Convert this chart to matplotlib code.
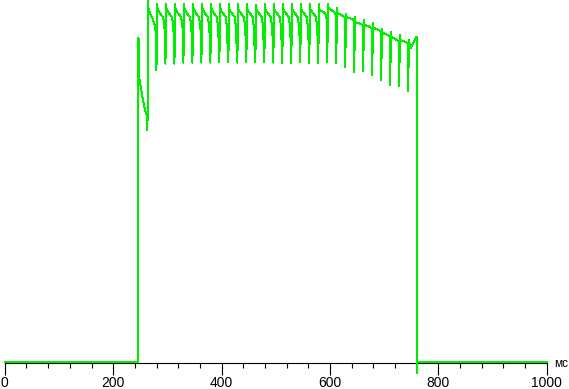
import matplotlib
matplotlib.use("Agg")
import matplotlib.pyplot as plt
from matplotlib.ticker import MultipleLocator

# initial step before the pulses start (ms, %)
start_t = [0, 246.7, 246.7, 247.4, 247.8, 251.3, 253.2, 255.0, 256.9, 258.7, 261.8]
start_v = [0, 0, 90.0, 85.3, 79.2, 76.1, 74.2, 72.8, 71.4, 70.0, 68.6]

# one entry per sawtooth (time of the downward spike)
spike_t = [263.3, 279.9, 296.5, 313.1, 329.7, 346.3, 362.9, 379.5, 396.1, 412.7,
           429.3, 445.9, 462.5, 479.1, 495.7, 512.3, 528.9, 545.5, 562.1, 578.7,
           595.3, 611.9, 628.5, 645.1, 661.7, 678.3, 694.9, 711.5, 728.1, 744.7]
trough = [64.4, 81.1, 82.8, 82.8, 83.1, 83.1, 83.1, 83.1, 83.3, 83.3,
          83.1, 83.3, 83.3, 83.3, 83.1, 83.1, 83.1, 83.3, 83.1, 83.1,
          83.3, 83.1, 81.9, 80.6, 80.8, 79.7, 78.3, 76.9, 76.7, 75.3]
peak = [100.2, 99.4, 99.4, 99.4, 99.4, 99.4, 99.4, 99.4, 99.4, 99.4,
        99.4, 99.4, 99.2, 99.4, 99.4, 99.4, 99.4, 99.4, 99.4, 99.4,
        99.4, 98.3, 96.7, 95.8, 95.0, 94.2, 92.5, 91.7, 90.8, 89.4]
shoulder = [97.8, 97.8, 97.8, 97.8, 97.8, 97.8, 97.8, 97.8, 97.8, 97.8,
            97.8, 97.8, 97.8, 97.8, 97.8, 97.8, 97.8, 97.8, 97.8, 97.8,
            98.3, 96.9, 95.8, 94.4, 93.6, 92.8, 91.4, 90.3, 89.4, 88.3]
knee = [94.2, 95.6, 95.6, 95.8, 95.6, 95.6, 95.6, 95.6, 95.6, 95.6,
        95.6, 95.6, 95.6, 95.6, 95.6, 95.6, 95.6, 95.6, 95.8, 96.9,
        97.2, 96.1, 95.3, 93.9, 93.1, 92.2, 90.8, 89.4, 88.9]
pre = [91.4, 91.9, 90.8, 92.2, 90.8, 91.4, 90.3, 88.6, 86.7, 86.7,
       89.4, 86.1, 88.1, 89.4, 88.1, 88.9, 89.4, 88.1, 89.4, 95.0,
       96.4, 95.6, 95.0, 93.3, 92.5, 91.7, 90.3, 88.9, 88.3]
tooth_dt = [0.0, 0.6, 2.2, 12.5, 15.5]

# last partial tooth and switch-off
end_t = [749.0, 759.4, 760.1, 760.1, 760.5, 760.9, 1000]
end_v = [87.2, 90.3, 90.3, 25.6, -3.1, 0, 0]

t = list(start_t)
v = list(start_v)
for i in range(len(spike_t)):
    vals = [trough[i], peak[i], shoulder[i]]
    if i < len(knee):
        vals += [knee[i], pre[i]]
    for dt, val in zip(tooth_dt, vals):
        t.append(spike_t[i] + dt)
        v.append(val)
t += end_t
v += end_v

fig = plt.figure(figsize=(5.69, 3.89), dpi=100)
ax = fig.add_axes([4.8 / 569, 26 / 389, 541.9 / 569, 363 / 389])
ax.plot(t, v, color='#00ee00', lw=0.72, antialiased=False, clip_on=False, zorder=3)

ax.set_xlim(0, 1000)
ax.set_ylim(-0.28, 100.56)
for s in ['left', 'top', 'right']:
    ax.spines[s].set_visible(False)
ax.spines['bottom'].set_linewidth(0.8)
ax.spines['bottom'].set_color('black')
ax.set_yticks([])
ax.xaxis.set_major_locator(MultipleLocator(200))
ax.xaxis.set_minor_locator(MultipleLocator(40))
ax.tick_params(axis='x', which='major', length=8.6, width=0.8, pad=0.8,
               labelsize=10, colors='black')
ax.tick_params(axis='x', which='minor', length=3.6, width=0.8)
for lab in ax.get_xticklabels():
    lab.set_family('Liberation Sans')

fig.text(554 / 569, (389 - 364) / 389, 'мс', fontsize=8.5, family='Liberation Sans',
         ha='left', va='center')

fig.savefig('out.png', dpi=100)
